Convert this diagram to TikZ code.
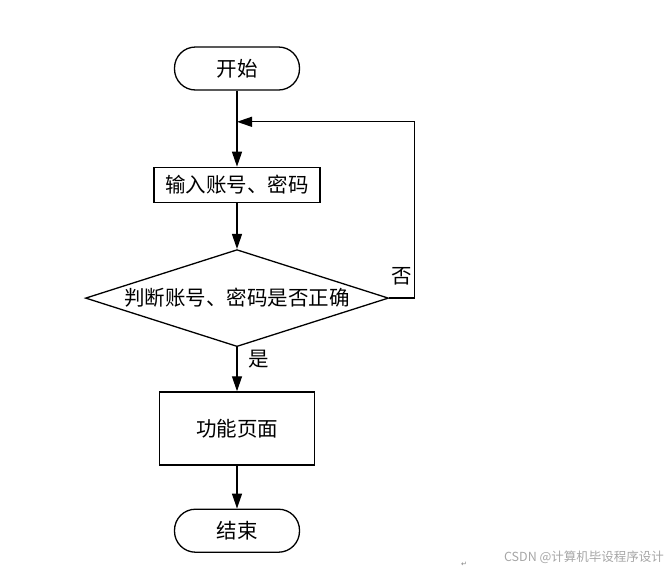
\documentclass[tikz,border=0pt]{standalone}
\usepackage{fontspec}
\newfontfamily\cjk{Noto Sans CJK SC}
\newfontfamily\symfont{DejaVu Sans}
\usetikzlibrary{arrows.meta,calc,positioning,shapes.geometric}

\begin{document}
\begin{tikzpicture}[
		line width=1.3pt,
		font=\cjk\fontsize{20.5}{22}\selectfont,
		terminal/.style={rectangle, draw, rounded corners=21pt, minimum width=125pt, minimum height=43pt},
		process/.style={rectangle, draw, inner sep=0pt},
		decision/.style={diamond, draw, aspect=3.1, inner sep=0pt, minimum width=303pt, minimum height=97pt},
		flow/.style={-{Triangle[length=15pt,width=10pt]}}
	]
		\useasboundingbox (0pt,0pt) rectangle (672pt,-571pt);

		\node[terminal] (start) at (237pt,-68.5pt) {开始};
		\node[process, minimum width=166pt, minimum height=35pt, below = 76pt of start] (input) {输入账号、密码};
		\node[decision, below = 46pt of input] (check) {判断账号、密码是否正确};
		\node[process, minimum width=155pt, minimum height=73pt, below = 44pt of check] (func) {功能页面};
		\node[terminal, below = 43pt of func] (end) {结束};

		\coordinate (merge) at ($(start.south)!0.41!(input.north)$);

		\draw[flow] (start) -- (input);
		\draw[flow] (input) -- (check);
		\draw[flow] (check) -- (func);
		\draw[flow] (func) -- (end);
		\draw[flow] (check.east) -- ++(25pt,0pt) |- (merge);

		\node[anchor=south west, inner sep=0pt] (no) at ($(check.east)+(2pt,12pt)$) {否};
		\node[anchor=north west, inner sep=0pt] (yes) at ($(check.south)+(11pt,-2pt)$) {是};

		\node[text=black!35, font=\cjk\fontsize{12.5}{14}\selectfont] (mark) at (584pt,-557pt) {CSDN @计算机毕设程序设计};
		\node[text=black!50, font=\symfont\fontsize{7}{8}\selectfont] (ret) at (464pt,-564pt) {↵};
	\end{tikzpicture}
\end{document}
